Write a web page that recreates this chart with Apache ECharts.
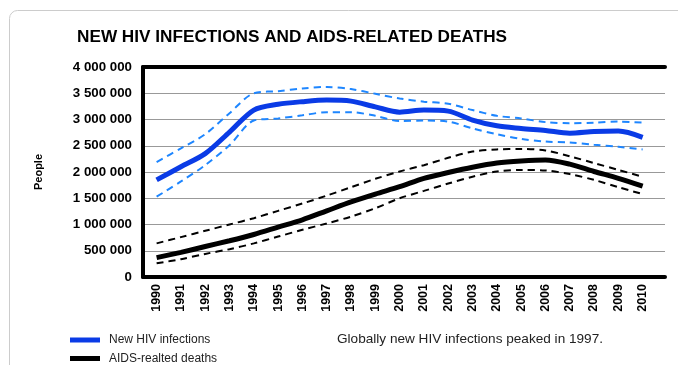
<!DOCTYPE html>
<html>
<head>
<meta charset="utf-8">
<script src="https://cdn.jsdelivr.net/npm/echarts@6/dist/echarts.min.js"></script>
<style>html,body{margin:0;padding:0;background:#fff}#c{width:678px;height:365px}</style>
</head>
<body>
<div id="c"></div>
<script>
const years = [1990,1991,1992,1993,1994,1995,1996,1997,1998,1999,2000,2001,2002,2003,2004,2005,2006,2007,2008,2009,2010];
const hivNew = [1850000,2100000,2350000,2760000,3180000,3290000,3340000,3370000,3350000,3240000,3140000,3180000,3160000,2990000,2880000,2830000,2790000,2740000,2770000,2780000,2660000];
const hivHigh = [2190000,2450000,2720000,3120000,3500000,3540000,3590000,3620000,3580000,3490000,3400000,3340000,3300000,3180000,3070000,3020000,2950000,2930000,2940000,2960000,2940000];
const hivLow = [1530000,1820000,2130000,2510000,2980000,3020000,3080000,3140000,3140000,3070000,2970000,2980000,2960000,2830000,2720000,2630000,2580000,2560000,2520000,2480000,2430000];
const deaths = [370000,470000,580000,690000,810000,950000,1090000,1260000,1430000,1580000,1720000,1880000,1990000,2090000,2170000,2210000,2230000,2150000,2010000,1880000,1730000];
const deathsHigh = [640000,760000,880000,1000000,1120000,1260000,1400000,1550000,1710000,1870000,2010000,2130000,2270000,2390000,2430000,2440000,2410000,2300000,2170000,2040000,1910000];
const deathsLow = [260000,340000,440000,530000,640000,770000,900000,1020000,1150000,1310000,1500000,1640000,1780000,1910000,2010000,2040000,2030000,1960000,1850000,1710000,1580000];
const yTicks = [0,500000,1000000,1500000,2000000,2500000,3000000,3500000,4000000];
const titleText = 'NEW HIV INFECTIONS AND AIDS-RELATED DEATHS';
const yName = 'People';
const legendNames = ['New HIV infections','AIDS-realted deaths'];
const noteText = 'Globally new HIV infections peaked in 1997.';

const FONT = '"Liberation Sans", Arial, sans-serif';
const pair = arr => arr.map((v,i)=>[years[i], v]);
const fmt = v => String(v).replace(/\B(?=(\d{3})+(?!\d))/g, ' ');

const chart = echarts.init(document.getElementById('c'), null, {renderer:'canvas'});
const solid = (name, data, color) => ({
  name, type:'line', data: pair(data), symbol:'none', smooth:0.3,
  lineStyle:{color, width:5}, itemStyle:{color}, z:5
});
const dashed = (name, data, color) => ({
  name, type:'line', data: pair(data), symbol:'none', smooth:0.3,
  lineStyle:{color, width:2, type:[7,5]}, itemStyle:{color}, z:4
});
const legendItem = (name, top) => ({
  data:[name], orient:'horizontal', left:70, top, icon:'rect',
  itemWidth:30, itemHeight:5, itemGap:0, padding:0,
  textStyle:{fontFamily:FONT, fontSize:12, color:'#222', padding:[0,0,0,4]}
});
chart.setOption({
  animation:false,
  textStyle:{fontFamily:FONT},
  title:{text:titleText, left:72, top:24, textStyle:{fontFamily:FONT, fontSize:17.2, fontWeight:'bold', color:'#000'}},
  grid:{left:143, top:67, right:13, bottom:88, containLabel:false},
  legend:[legendItem(legendNames[0], 334), legendItem(legendNames[1], 352.5)],
  xAxis:[{
    type:'value', min:1989.44, max:2010.92, position:'bottom',
    axisLine:{show:true, lineStyle:{color:'#000', width:4}},
    axisTick:{show:false},
    splitLine:{show:false},
    axisLabel:{customValues:years, rotate:90, margin:7, fontFamily:FONT, fontSize:12.5, fontWeight:'bold', color:'#000', formatter:v=>String(v)}
  },{
    type:'value', min:1989.44, max:2010.92, position:'top',
    axisLine:{show:true, lineStyle:{color:'#000', width:4}},
    axisTick:{show:false}, axisLabel:{show:false}, splitLine:{show:false}
  }],
  yAxis:{
    type:'value', min:0, max:4000000, interval:500000,
    name:yName, nameLocation:'middle', nameGap:99, nameRotate:90,
    nameTextStyle:{fontFamily:FONT, fontSize:11, fontWeight:'bold', color:'#000'},
    axisLine:{show:true, lineStyle:{color:'#000', width:4}},
    axisTick:{show:false},
    splitLine:{show:true, lineStyle:{color:'#999', width:1}},
    axisLabel:{margin:11, fontFamily:FONT, fontSize:13.3, fontWeight:'bold', color:'#000', formatter:v=>fmt(v)}
  },
  graphic:[
    {type:'rect', shape:{x:9.5, y:10.5, width:720, height:420, r:8}, style:{fill:'none', stroke:'#cccccc', lineWidth:1}, z:-10, silent:true},
    {type:'text', left:337, top:332, style:{text:noteText, font:'13.6px "Liberation Sans", Arial, sans-serif', fill:'#222'}}
  ],
  series:[
    dashed('HIV upper', hivHigh, '#1e86ff'),
    dashed('HIV lower', hivLow, '#1e86ff'),
    dashed('Deaths upper', deathsHigh, '#000'),
    dashed('Deaths lower', deathsLow, '#000'),
    solid(legendNames[0], hivNew, '#0a3be6'),
    solid(legendNames[1], deaths, '#000')
  ]
});
</script>
</body>
</html>
